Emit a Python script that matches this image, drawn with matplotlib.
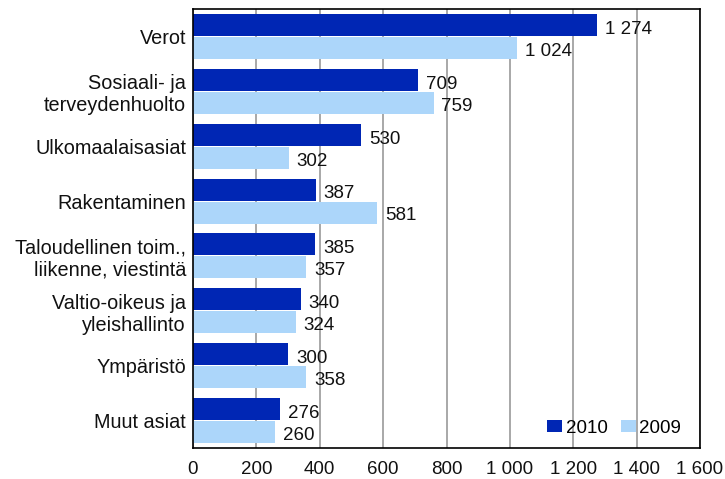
import matplotlib
matplotlib.use("Agg")
import matplotlib.pyplot as plt
import numpy as np

categories = ["Verot", "Sosiaali- ja\nterveydenhuolto", "Ulkomaalaisasiat", "Rakentaminen",
              "Taloudellinen toim.,\nliikenne, viestintä", "Valtio-oikeus ja\nyleishallinto",
              "Ympäristö", "Muut asiat"]
values_2010 = [1274, 709, 530, 387, 385, 340, 300, 276]
values_2009 = [1024, 759, 302, 581, 357, 324, 358, 260]
series_names = ["2010", "2009"]
xticks = [0, 200, 400, 600, 800, 1000, 1200, 1400, 1600]

def fmt(v):
    return f"{v:,}".replace(",", " ")

plt.rcParams['font.family'] = ['Liberation Sans', 'DejaVu Sans']

fig = plt.figure(figsize=(7.25, 4.79), dpi=100)
ax = fig.add_axes([193/725, 1 - 448/479, (700-193)/725, (448-9)/479])

n = len(categories)
y = np.arange(n)
h = 0.40
c10 = "#0026b4"
c09 = "#acd6fa"
ax.barh(y - h/2 - 0.01, values_2010, height=h, color=c10, linewidth=0, label=series_names[0], zorder=2)
ax.barh(y + h/2 + 0.01, values_2009, height=h, color=c09, linewidth=0, label=series_names[1], zorder=2)

fs_num = 13.5
fs_cat = 14.3
for yi, v in zip(y, values_2010):
    ax.text(v + 25, yi - h/2 + 0.07, fmt(v), va="center", ha="left", fontsize=fs_num, color="#111111", zorder=4)
for yi, v in zip(y, values_2009):
    ax.text(v + 25, yi + h/2 + 0.07, fmt(v), va="center", ha="left", fontsize=fs_num, color="#111111", zorder=4)

ax.set_ylim(n - 0.5, -0.5)
ax.set_xlim(0, 1600)
ax.set_xticks(xticks)
ax.set_xticklabels([fmt(t) for t in xticks], fontsize=fs_num, color="#111111")
ax.set_yticks(y)
ax.set_yticklabels(categories, fontsize=fs_cat, color="#111111", multialignment="right")
ax.tick_params(axis="both", length=0)
ax.tick_params(axis="x", pad=9)
ax.tick_params(axis="y", pad=5)
ax.xaxis.grid(True, color="#999999", linewidth=1.2, zorder=0)
ax.set_axisbelow(True)
for s in ax.spines.values():
    s.set_color("black")
    s.set_linewidth(1.2)
    s.set_zorder(5)

leg = ax.legend(loc="lower right", ncol=2, frameon=False, fontsize=fs_num, handlelength=0.8,
                handleheight=0.6, handletextpad=0.2, columnspacing=0.7,
                bbox_to_anchor=(0.985, 0.0), borderaxespad=0.2)

fig.savefig("out.png", dpi=100, facecolor="white")
